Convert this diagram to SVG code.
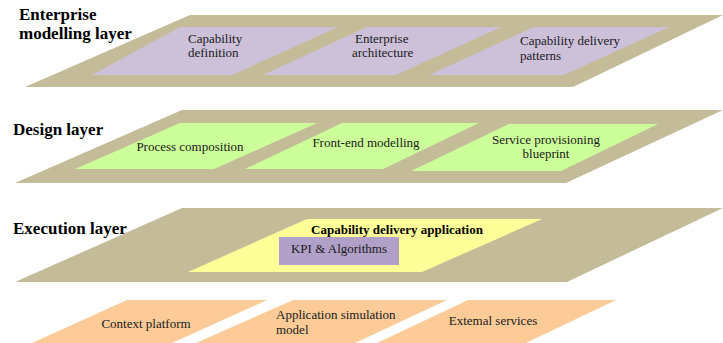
<svg xmlns="http://www.w3.org/2000/svg" width="723" height="343" viewBox="0 0 723 343">
<style>
.band{fill:#c4bc99}
.em{fill:#cdc1da}
.ds{fill:#ccff99}
.ex{fill:#ffff99}
.kpi{fill:#b1a0c7}
.inf{fill:#fdcb98}
.title{font-family:"Liberation Serif",serif;font-weight:bold;font-size:17px;fill:#000}
.lbl{font-family:"Liberation Serif",serif;font-size:13px;fill:#1a1a1a}
.blbl{font-family:"Liberation Serif",serif;font-weight:bold;font-size:13px;fill:#000}
</style>
<rect width="723" height="343" fill="#ffffff"/>
<g id="enterprise-layer">
<polygon class="band" points="190,15 723,15 573,87 25,87"/>
<text class="title" x="19" y="20">Enterprise</text>
<text class="title" x="19" y="39">modelling layer</text>
</g>
<g id="capability-definition">
<polygon class="em" points="180,27 338,27 232,75 92,75"/>
<text class="lbl" x="188" y="43">Capability</text>
<text class="lbl" x="188" y="57">definition</text>
</g>
<g id="enterprise-architecture">
<polygon class="em" points="367,27 501,27 396,75 263,75"/>
<text class="lbl" x="355" y="43">Enterprise</text>
<text class="lbl" x="352" y="57">architecture</text>
</g>
<g id="capability-delivery-patterns">
<polygon class="em" points="534,27 669,27 564,75 429,75"/>
<text class="lbl" x="520" y="45">Capability delivery</text>
<text class="lbl" x="520" y="60">patterns</text>
</g>
<g id="design-layer">
<polygon class="band" points="182,110 723,110 566,183 15,183"/>
<text class="title" x="13" y="135">Design layer</text>
</g>
<g id="process-composition">
<polygon class="ds" points="180,123 317,123 214,169 75,169"/>
<text class="lbl" x="190" y="151" text-anchor="middle">Process composition</text>
</g>
<g id="front-end-modelling">
<polygon class="ds" points="342,123 479,123 383,169 245,169"/>
<text class="lbl" x="366" y="147" text-anchor="middle">Front-end modelling</text>
</g>
<g id="service-provisioning-blueprint">
<polygon class="ds" points="509,124 658,124 561,171 411,171"/>
<text class="lbl" x="546" y="144" text-anchor="middle">Service provisioning</text>
<text class="lbl" x="546" y="158" text-anchor="middle">blueprint</text>
</g>
<g id="execution-layer">
<polygon class="band" points="182,208 723,208 567,282 15,282"/>
<text class="title" x="13" y="234">Execution layer</text>
</g>
<g id="capability-delivery-application">
<polygon class="ex" points="307,219 542,219 422,272 188,272"/>
<text class="blbl" x="397" y="234" text-anchor="middle">Capability delivery application</text>
</g>
<g id="kpi-algorithms">
<rect class="kpi" x="279" y="237" width="120" height="28"/>
<text class="lbl" x="339" y="253" text-anchor="middle">KPI &amp; Algorithms</text>
</g>
<g id="context-platform">
<polygon class="inf" points="127,300 267,300 172,343 32,343"/>
<text class="lbl" x="146" y="328" text-anchor="middle">Context platform</text>
</g>
<g id="application-simulation-model">
<polygon class="inf" points="293,300 447,300 355,343 196,343"/>
<text class="lbl" x="276" y="319" font-size="12.5">Application simulation</text>
<text class="lbl" x="276" y="334" font-size="12.5">model</text>
</g>
<g id="external-services">
<polygon class="inf" points="468,300 616,300 526,343 377,343"/>
<text class="lbl" x="493" y="325" text-anchor="middle">Extemal services</text>
</g>
</svg>
